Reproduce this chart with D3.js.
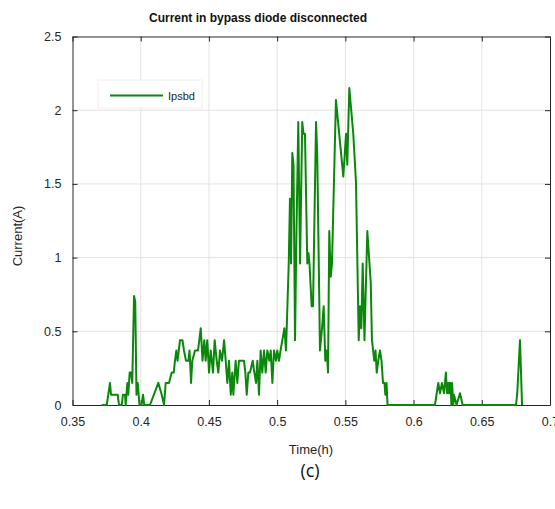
<!DOCTYPE html>
<html><head><meta charset="utf-8">
<script src="https://cdn.jsdelivr.net/npm/d3@7"></script>
<style>html,body{margin:0;padding:0;background:#fff;}svg{display:block;}</style>
</head><body>
<svg id="chart" width="555" height="509"></svg>
<script>
const title = "Current in bypass diode disconnected";
const xLabel = "Time(h)";
const yLabel = "Current(A)";
const caption = "(c)";
const seriesName = "Ipsbd";
const xTicks = [0.35, 0.4, 0.45, 0.5, 0.55, 0.6, 0.65, 0.7];
const yTicks = [0, 0.5, 1, 1.5, 2, 2.5];

const time = [
0.3714,0.3751,0.3762,0.3775,0.3782,0.3831,0.3841,0.3861,0.3870,0.3885,0.3890,0.3902,0.3909,0.3919,0.3929,0.3938,
0.3951,0.3960,0.3969,0.3978,0.3985,0.3991,0.4006,0.4017,0.4026,0.4068,0.4129,0.4154,0.4171,0.4183,0.4207,0.4227,
0.4242,0.4251,0.4261,0.4270,0.4288,0.4306,0.4317,0.4332,0.4349,0.4358,0.4369,0.4378,0.4398,0.4420,0.4440,0.4453,
0.4466,0.4476,0.4488,0.4501,0.4513,0.4530,0.4542,0.4557,0.4569,0.4581,0.4596,0.4611,0.4623,0.4635,0.4647,0.4660,
0.4671,0.4679,0.4696,0.4708,0.4720,0.4740,0.4757,0.4767,0.4777,0.4789,0.4801,0.4821,0.4833,0.4845,0.4855,0.4867,
0.4879,0.4891,0.4904,0.4916,0.4928,0.4943,0.4953,0.4965,0.4977,0.4992,0.5001,0.5014,0.5025,0.5038,0.5053,0.5065,
0.5085,0.5094,0.5102,0.5111,0.5120,0.5131,0.5142,0.5155,0.5168,0.5184,0.5193,0.5204,0.5221,0.5230,0.5237,0.5253,
0.5263,0.5285,0.5294,0.5314,0.5329,0.5341,0.5353,0.5363,0.5373,0.5382,0.5393,0.5402,0.5431,0.5485,0.5505,0.5514,
0.5529,0.5558,0.5578,0.5598,0.5607,0.5617,0.5627,0.5640,0.5661,0.5686,0.5695,0.5712,0.5721,0.5730,0.5741,0.5754,
0.5765,0.5776,0.5787,0.5793,0.5802,0.5809,0.5820,0.6157,0.6181,0.6194,0.6208,0.6223,0.6237,0.6245,0.6252,0.6258,
0.6262,0.6267,0.6272,0.6277,0.6282,0.6287,0.6291,0.6296,0.6315,0.6340,0.6360,0.6751,0.6760,0.6780,0.6795
];
const current = [
0,0,0.07,0.15,0.07,0.07,0,0,0.07,0.07,0,0.15,0.07,0.22,0.22,0.15,
0.74,0.70,0.07,0.15,0.07,0,0,0.07,0,0,0.15,0.07,0,0.15,0.15,0.22,
0.22,0.30,0.37,0.30,0.44,0.44,0.37,0.30,0.30,0.37,0.15,0.30,0.37,0.37,0.52,0.30,
0.44,0.30,0.44,0.22,0.37,0.22,0.44,0.30,0.22,0.37,0.30,0.44,0.30,0.15,0.30,0.07,
0.22,0.07,0.30,0.15,0.30,0.30,0.30,0.22,0.07,0.22,0.22,0.30,0.22,0.15,0.30,0.07,
0.37,0.22,0.37,0.22,0.37,0.30,0.37,0.15,0.37,0.30,0.37,0.30,0.37,0.44,0.52,0.37,
0.96,1.40,0.96,1.71,1.63,0.44,1.20,1.92,0.96,1.92,1.84,1.84,0.96,1.03,0.96,0.67,
0.67,1.92,1.70,0.37,0.52,0.67,0.30,0.37,0.22,1.18,0.87,0.96,2.07,1.55,1.84,1.63,
2.15,1.84,1.51,0.44,0.67,0.52,0.96,0.44,1.18,0.83,0.44,0.30,0.37,0.22,0.30,0.37,
0.30,0.15,0.15,0.07,0.15,0,0,0,0.15,0.08,0.15,0.08,0.22,0.08,0.15,0.08,
0.15,0.08,0.15,0,0.15,0.07,0,0.07,0,0.08,0,0,0.08,0.44,0
];

const svg = d3.select("#chart");
const L = 72.5, R = 550, T = 36.5, B = 405;
const x = d3.scaleLinear().domain([0.35, 0.7]).range([L, R]);
const y = d3.scaleLinear().domain([0, 2.5]).range([B, T]);
const font = "'Liberation Sans', Arial, sans-serif";
const axisColor = "#262626";

// grid
const g = svg.append("g");
g.selectAll(".vg").data(xTicks.slice(1, -1)).enter().append("line")
  .attr("x1", d => x(d)).attr("x2", d => x(d)).attr("y1", T).attr("y2", B)
  .attr("stroke", "#e3e3e3").attr("stroke-width", 1);
g.selectAll(".hg").data(yTicks.slice(1, -1)).enter().append("line")
  .attr("y1", d => y(d)).attr("y2", d => y(d)).attr("x1", L).attr("x2", R)
  .attr("stroke", "#e3e3e3").attr("stroke-width", 1);

// axes (ticks inward)
const ax = (gen, tr) => svg.append("g").attr("transform", tr).call(gen)
  .call(s => s.select(".domain").attr("stroke", axisColor))
  .call(s => s.selectAll(".tick line").attr("stroke", axisColor))
  .call(s => s.selectAll("text").attr("fill", "#262626").style("font-family", font).style("font-size", "12.5px"));

ax(d3.axisBottom(x).tickValues(xTicks).tickFormat(d3.format("")).tickSizeInner(-5).tickSizeOuter(0).tickPadding(12), `translate(0,${B})`);
ax(d3.axisLeft(y).tickValues(yTicks).tickFormat(d3.format("")).tickSizeInner(-5).tickSizeOuter(0).tickPadding(11), `translate(${L},0)`);
ax(d3.axisTop(x).tickValues(xTicks).tickFormat("").tickSizeInner(-5).tickSizeOuter(0), `translate(0,${T})`);
ax(d3.axisRight(y).tickValues(yTicks).tickFormat("").tickSizeInner(-5).tickSizeOuter(0), `translate(${R},0)`);

// line
const data = time.map((t, i) => [t, current[i]]);
svg.append("path").datum(data)
  .attr("fill", "none").attr("stroke", "#0b870b").attr("stroke-width", 2)
  .attr("stroke-linejoin", "round")
  .attr("d", d3.line().x(d => x(d[0])).y(d => y(d[1])));

// legend
const lg = svg.append("g");
lg.append("rect").attr("x", 98).attr("y", 80).attr("width", 104).attr("height", 28)
  .attr("fill", "#fff").attr("stroke", "#f0f0f0");
lg.append("line").attr("x1", 110).attr("x2", 163).attr("y1", 95.5).attr("y2", 95.5)
  .attr("stroke", "#0b870b").attr("stroke-width", 2);
lg.append("text").attr("x", 168).attr("y", 99.5).text(seriesName)
  .style("font-family", font).style("font-size", "11px").attr("fill", "#262626");

// labels
svg.append("text").attr("x", 258).attr("y", 21.5).attr("text-anchor", "middle")
  .style("font-family", font).style("font-size", "12px").style("font-weight", "bold")
  .attr("fill", "#111").text(title);
svg.append("text").attr("x", 311).attr("y", 454).attr("text-anchor", "middle")
  .style("font-family", font).style("font-size", "13px").attr("fill", "#262626").text(xLabel);
svg.append("text").attr("transform", "translate(22,236) rotate(-90)").attr("text-anchor", "middle")
  .style("font-family", font).style("font-size", "13px").attr("fill", "#262626").text(yLabel);
svg.append("text").attr("x", 310).attr("y", 477).attr("text-anchor", "middle")
  .style("font-family", "'Open Sans', 'Noto Sans', sans-serif").style("font-size", "18px").attr("fill", "#111").text(caption);
</script>
</body></html>
